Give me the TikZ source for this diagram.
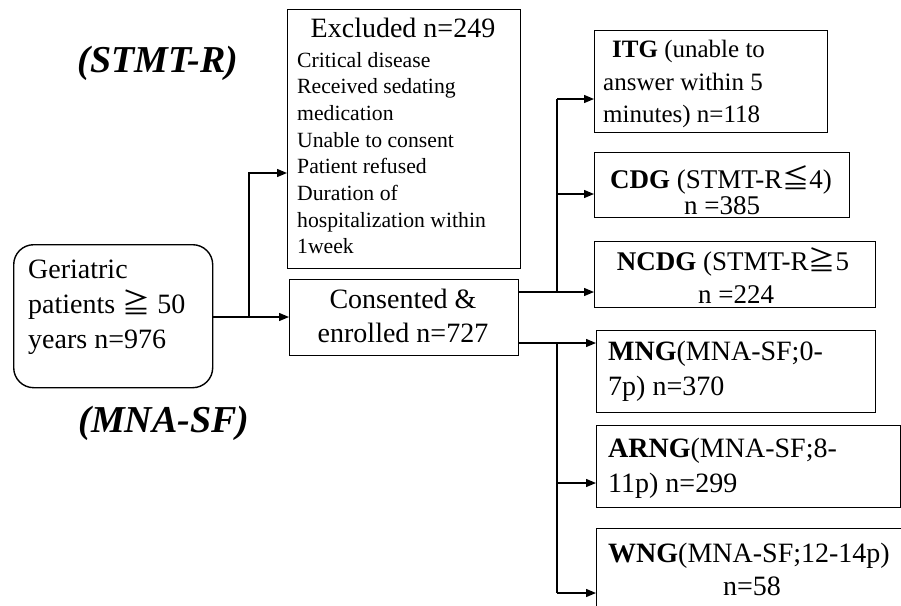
\documentclass[tikz,border=0pt]{standalone}
\usepackage{fontspec}
\setmainfont{Liberation Serif}
\newfontfamily\cjk{Noto Sans CJK JP}
\usetikzlibrary{arrows.meta}
\tikzset{
  box/.style={draw, line width=1.4pt, inner sep=0pt, anchor=north west},
  conn/.style={line width=1.3pt},
  arr/.style={conn, -{Triangle[length=10pt,width=8pt]}},
  txt/.style={inner sep=0pt, font=\fontsize{28pt}{35pt}\selectfont},
  small/.style={inner sep=0pt, font=\fontsize{21.7pt}{26pt}\selectfont},
  mid/.style={inner sep=0pt, font=\fontsize{25pt}{31pt}\selectfont},
  cd/.style={inner sep=0pt, font=\fontsize{27pt}{33pt}\selectfont},
  lab/.style={inner sep=0pt, font=\fontsize{38pt}{42pt}\selectfont\bfseries\itshape}
}
\newcommand{\mygeqq}{{\cjk ≧}}
\newcommand{\myleqq}{{\cjk ≦}}
\begin{document}
\begin{tikzpicture}[x=1pt,y=-1pt]
\useasboundingbox (0,0) rectangle (901,605);
\fill[white] (0,0) rectangle (901,605);
\clip (0,0) rectangle (901,605);

% boxes
\node[box, rounded corners=20pt, minimum width=199pt, minimum height=143pt] (ger) at (13,244) {};
\node[box, minimum width=233pt, minimum height=259pt] (exc) at (287,9) {};
\node[box, minimum width=229pt, minimum height=76pt] (cons) at (289,279) {};
\node[box, minimum width=233pt, minimum height=102pt] (itg) at (594,30) {};
\node[box, minimum width=255pt, minimum height=65pt] (cdg) at (594,152) {};
\node[box, minimum width=281pt, minimum height=66pt] (ncdg) at (594,241) {};
\node[box, minimum width=279pt, minimum height=82pt] (mng) at (596,330) {};
\node[box, minimum width=304pt, minimum height=82pt] (arng) at (596,425) {};
\node[box, minimum width=330pt, minimum height=110pt] (wng) at (596,528) {};

% labels
\node[lab, anchor=base] (l1) at (158,72) {(STMT-R)};
\node[lab, anchor=base] (l2) at (164,432) {(MNA-SF)};

% Geriatric text
\node[txt, anchor=base west] (g1) at (28,278) {Geriatric};
\node[txt, anchor=base west] (g2) at (28,313) {patients \mygeqq{} 50};
\node[txt, anchor=base west] (g3) at (28,348) {years n=976};

% Excluded text
\node[txt, anchor=base] (e0) at (403,37) {Excluded n=249};
\node[small, anchor=base west] (e1) at (297,67) {Critical disease};
\node[small, anchor=base west] (e2) at (297,93.5) {Received sedating};
\node[small, anchor=base west] (e3) at (297,120) {medication};
\node[small, anchor=base west] (e4) at (297,147) {Unable to consent};
\node[small, anchor=base west] (e5) at (297,173) {Patient refused};
\node[small, anchor=base west] (e6) at (297,200) {Duration of};
\node[small, anchor=base west] (e7) at (297,227) {hospitalization within};
\node[small, anchor=base west] (e8) at (297,253) {1week};

% Consented text
\node[txt, anchor=base] (c1t) at (403,308) {Consented \&};
\node[txt, anchor=base] (c2t) at (403,342) {enrolled n=727};

% ITG
\node[mid, anchor=base west] (i1) at (612,57) {\textbf{ITG} (unable to};
\node[mid, anchor=base west] (i2) at (603,90) {answer within 5};
\node[mid, anchor=base west] (i3) at (603,122) {minutes) n=118};

% CDG
\node[cd, anchor=base] (d1) at (721,188) {\textbf{CDG} (STMT-R\myleqq4)};
\node[cd, anchor=base] (d2) at (722,214) {n =385};

% NCDG
\node[cd, anchor=base] (n1) at (733,270) {\textbf{NCDG} (STMT-R\mygeqq5};
\node[cd, anchor=base] (n2) at (736,303) {n =224};

% MNG
\node[txt, anchor=base west] (m1) at (608,360) {\textbf{MNG}(MNA-SF;0-};
\node[txt, anchor=base west] (m2) at (608,395) {7p) n=370};

% ARNG
\node[txt, anchor=base west] (a1) at (608,457) {\textbf{ARNG}(MNA-SF;8-};
\node[txt, anchor=base west] (a2) at (608,492) {11p) n=299};

% WNG
\node[txt, anchor=base west] (w1) at (608,562) {\textbf{WNG}(MNA-SF;12-14p)};
\node[txt, anchor=base] (w2) at (752,595) {n=58};

% connectors
\coordinate (j0) at (249,317);
\coordinate (excin) at (287,173);
\coordinate (co1) at (518,292);
\coordinate (co2) at (518,343);
\coordinate (b1) at (557,292);
\coordinate (b2) at (557,343);
\coordinate (itgin) at (594,99);
\coordinate (cdgin) at (594,194);
\coordinate (arngin) at (596,483);
\coordinate (wngin) at (596,593);

\draw[arr] (ger.east |- j0) -- (cons.west |- j0);
\draw[arr] (j0) |- (excin);
\draw[arr] (co1) -- (ncdg.west |- co1);
\draw[conn] (b1) -- (b1 |- itgin);
\draw[arr] (b1 |- itgin) -- (itgin);
\draw[arr] (b1 |- cdgin) -- (cdgin);
\draw[arr] (co2) -- (mng.west |- co2);
\draw[conn] (b2) -- (b2 |- wngin);
\draw[arr] (b2 |- arngin) -- (arngin);
\draw[arr] (b2 |- wngin) -- (wngin);
\end{tikzpicture}
\end{document}
